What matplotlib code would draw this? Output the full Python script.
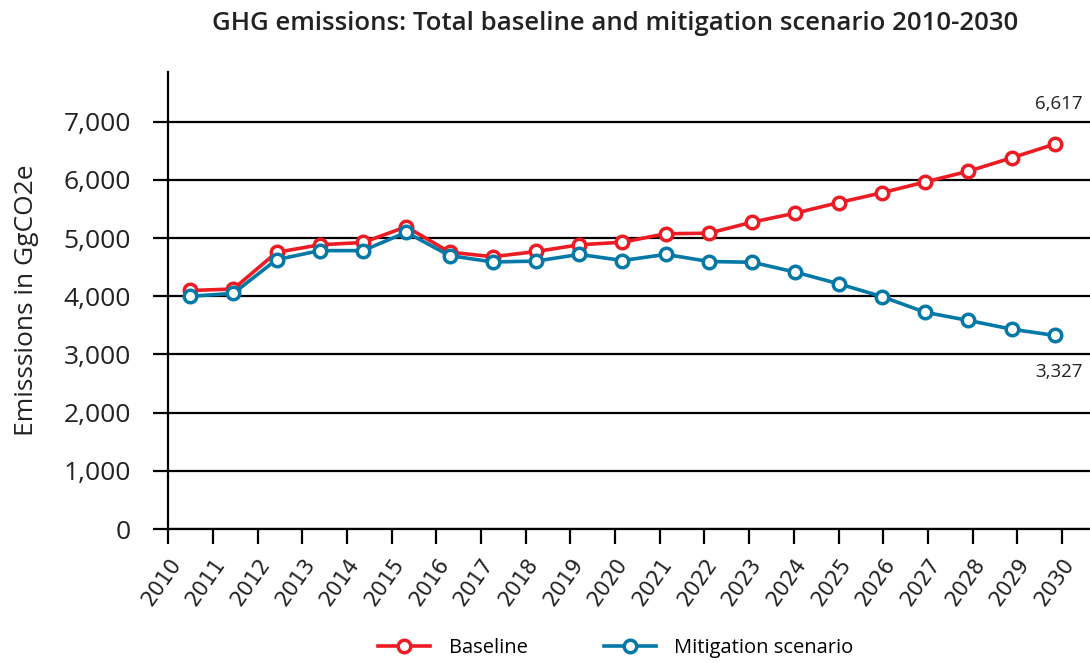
import matplotlib
matplotlib.use("Agg")
import matplotlib.pyplot as plt
import numpy as np

years = [str(y) for y in range(2010, 2031)]
baseline = [4100, 4125, 4755, 4885, 4925, 5195, 4760, 4680, 4770, 4885, 4930,
            5075, 5085, 5275, 5430, 5610, 5780, 5965, 6150, 6380, 6617]
mitigation = [4000, 4050, 4630, 4785, 4785, 5100, 4700, 4590, 4605, 4720, 4615,
              4720, 4598, 4585, 4415, 4215, 3995, 3725, 3585, 3435, 3327]
y_ticks = [0, 1000, 2000, 3000, 4000, 5000, 6000, 7000]

RED = "#EC1C24"
BLUE = "#0478A6"
FONT = "Open Sans"
TXT = "#222222"

fig = plt.figure(figsize=(10.9, 6.63), dpi=100)
ax = fig.add_axes([0.1545, 0.202, 0.8455, 0.689])

# points sit in the middle of equal bands, ticks spread slightly wider
pos = np.arange(len(years)) + 0.5
tick_pos = np.arange(len(years)) * 1.033

ax.plot(pos, baseline, color=RED, lw=2.6, marker="o", ms=9, mfc="white",
        mec=RED, mew=2.5, label="Baseline", zorder=3)
ax.plot(pos, mitigation, color=BLUE, lw=2.6, marker="o", ms=9, mfc="white",
        mec=BLUE, mew=2.5, label="Mitigation scenario", zorder=3)

ax.set_xlim(0, 21.31)
ax.set_ylim(0, 7850)
ax.set_yticks(y_ticks)
ax.set_yticklabels([f"{v:,}" for v in y_ticks], fontsize=19, family=FONT,
                   color=TXT)
ax.set_xticks(tick_pos)
ax.set_xticklabels(years, rotation=55, ha="right", va="top",
                   rotation_mode="anchor", fontsize=15, family="DejaVu Sans",
                   color=TXT)
ax.tick_params(axis="y", length=11, width=1.6, pad=16)
ax.tick_params(axis="x", length=11, width=1.6, pad=7)

ax.yaxis.grid(True, color="black", lw=1.6)
ax.set_axisbelow(True)
for side in ("top", "right"):
    ax.spines[side].set_visible(False)
for side in ("left", "bottom"):
    ax.spines[side].set_linewidth(1.6)

ax.set_ylabel("Emisssions in GgCO2e", fontsize=19, family=FONT,
              color=TXT, labelpad=18)

ax.annotate(f"{baseline[-1]:,}", xy=(pos[-1], baseline[-1]), xytext=(3, 22),
            textcoords="offset points", ha="center", va="bottom",
            fontsize=13.5, family=FONT, color=TXT)
ax.annotate(f"{mitigation[-1]:,}", xy=(pos[-1], mitigation[-1]), xytext=(3, -20),
            textcoords="offset points", ha="center", va="top",
            fontsize=13.5, family=FONT, color=TXT)

fig.text(0.564, 0.965, "GHG emissions: Total baseline and mitigation scenario 2010-2030",
         ha="center", va="center", fontsize=18.5, fontweight="semibold", family=FONT,
         color=TXT)

fig.legend(loc="center", bbox_to_anchor=(0.565, 0.022), ncol=2, frameon=False,
           prop={"family": FONT, "size": 14.5}, handlelength=2.6,
           columnspacing=3.8, handletextpad=0.9)

fig.savefig("out.png", dpi=100)
